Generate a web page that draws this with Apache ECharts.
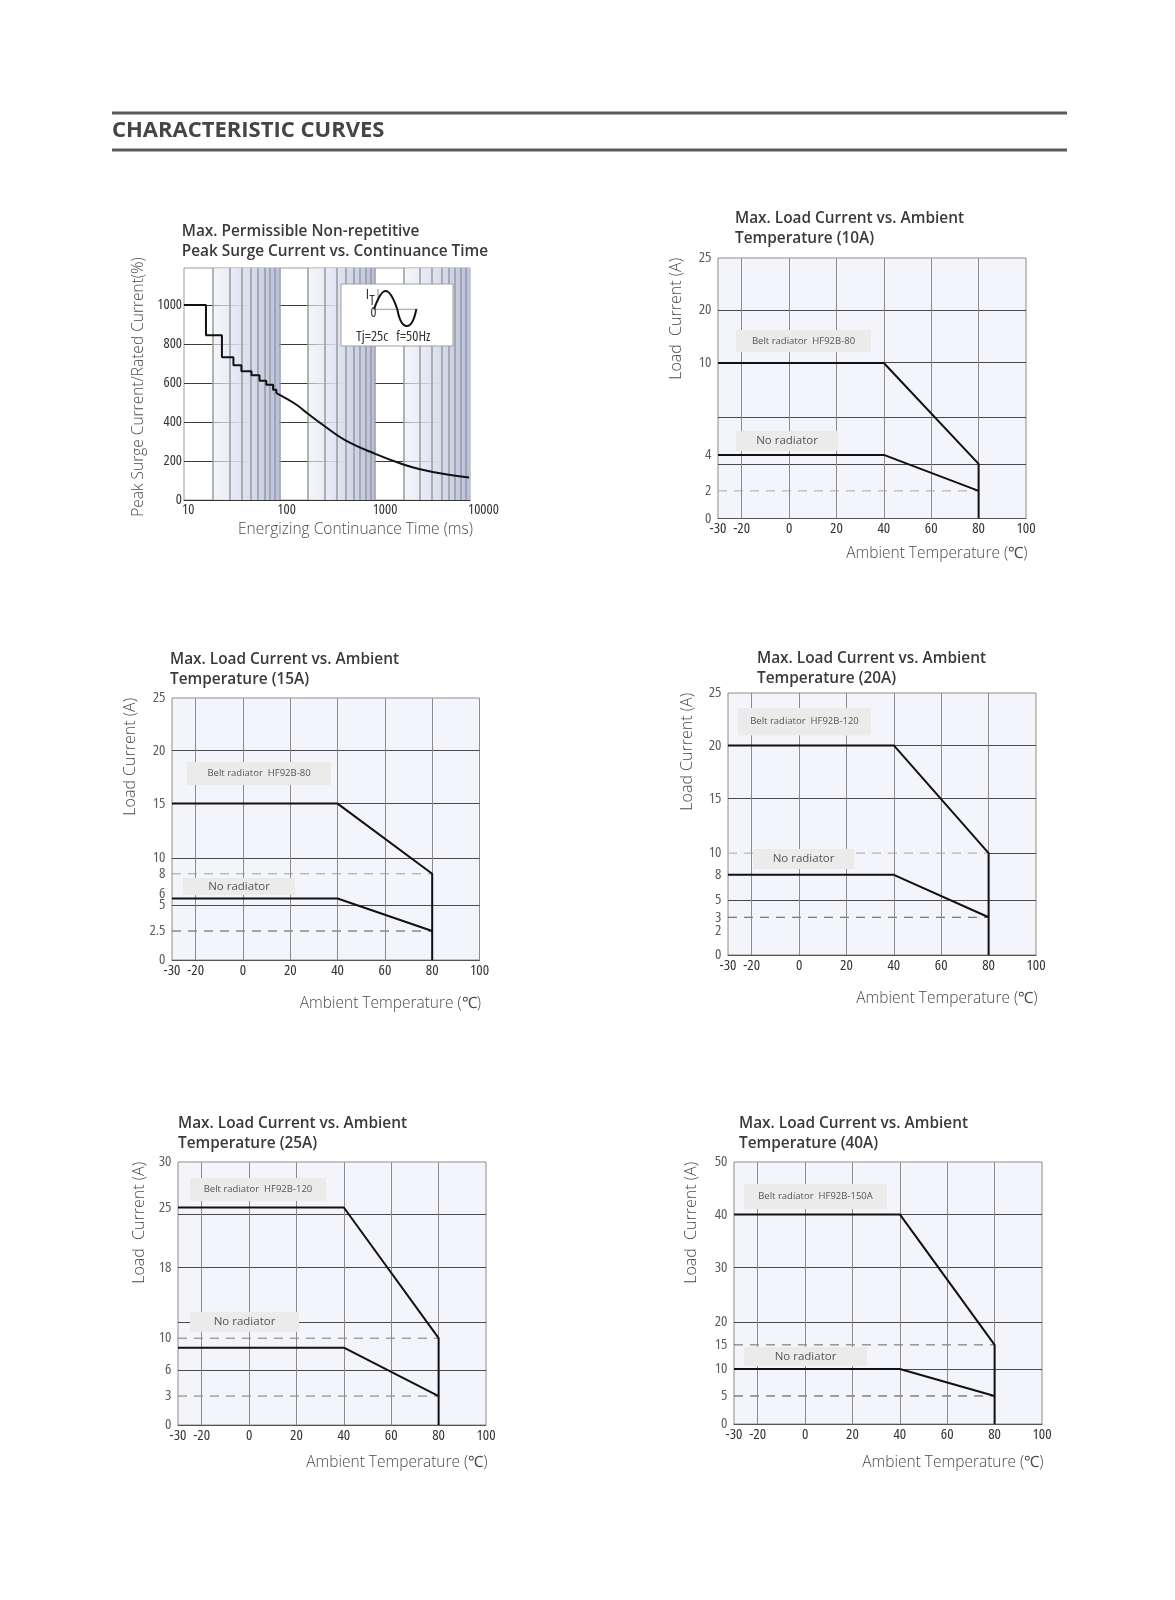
<!DOCTYPE html>
<html><head><meta charset="utf-8">
<script src="https://cdn.jsdelivr.net/npm/echarts@6/dist/echarts.min.js"></script>
<style>html,body{margin:0;padding:0;background:#fff}#c{width:1175px;height:1600px}</style>
</head><body><div id="c"></div>
<script>
// ================= DATA =================
const surgeStepTime  = [10, 17, 25, 33, 40, 51, 62, 73, 86, 93];
const surgeStepPct   = [1000, 845, 732, 691, 660, 640, 612, 591, 566, 548];
const surgeCurveTime = [93, 150, 200, 300, 500, 1000, 2000, 3000, 5000, 9800];
const surgeCurvePct  = [548, 490, 442, 378, 305, 238, 182, 158, 136, 115];
const surgeXTicks    = [10, 100, 1000, 10000];
const surgeYTicks    = [0, 200, 400, 600, 800, 1000];
const surgeBands     = [[20, 100], [200, 1000], [2000, 10000]];

const tempXTicks = [-30, -20, 0, 20, 40, 60, 80, 100];
const beltTemp = [-30, 40, 80, 80];
const noneTemp = [-30, 40, 80];
const refTemp  = [-30, 80];

const yTicks10A = [0, 2, 4, 10, 20, 25];
const belt10A   = [10, 10, 3.5, 0];
const none10A   = [4, 4, 2];
const refs10A   = [2];

const yTicks15A = [0, 2.5, 5, 6, 8, 10, 15, 20, 25];
const belt15A   = [15, 15, 8, 0];
const none15A   = [6, 6, 2.5];
const refs15A   = [8, 2.5];

const yTicks20A = [0, 2, 3, 5, 8, 10, 15, 20, 25];
const belt20A   = [20, 20, 10, 0];
const none20A   = [8, 8, 3];
const refs20A   = [10, 3];

const yTicks25A = [0, 3, 6, 10, 18, 25, 30];
const belt25A   = [25, 25, 10, 0];
const none25A   = [8.8, 8.8, 3];
const refs25A   = [10, 3];

const yTicks40A = [0, 5, 10, 15, 20, 30, 40, 50];
const belt40A   = [40, 40, 15, 0];
const none40A   = [10, 10, 5];
const refs40A   = [15, 5];

const ratings   = ['10A', '15A', '20A', '25A', '40A'];
const beltNames = ['Belt radiator  HF92B-80', 'Belt radiator  HF92B-80', 'Belt radiator  HF92B-120', 'Belt radiator  HF92B-120', 'Belt radiator  HF92B-150A'];
const yNames    = ['Load  Current (A)', 'Load Current (A)', 'Load Current (A)', 'Load  Current (A)', 'Load  Current (A)'];

// ================= NON-LINEAR Y SCALES (axis definition, fraction of plot height) =================
const yScale10A = [0, 0.106, 0.244, 0.597, 0.8, 1];
const yScale15A = [0, 0.1106, 0.21, 0.235, 0.329, 0.389, 0.597, 0.8, 1];
const yScale20A = [0, 0.092, 0.144, 0.21, 0.306, 0.389, 0.597, 0.8, 1];
const yScale25A = [0, 0.11, 0.21, 0.33, 0.597, 0.827, 1];
const yScale40A = [0, 0.107, 0.21, 0.302, 0.389, 0.597, 0.8, 1];
const gridFracs = [0.21, 0.389, 0.597, 0.8];

// ================= LAYOUT / STYLE =================
const COND = "'Open Sans', sans-serif";   // used with font-stretch: condensed
const SANS = "'Open Sans', Lato, sans-serif";
const surgeGrid = {left: 184, top: 268, width: 286, height: 232};
const panels = [
  {left: 718, top: 258, width: 308, height: 260.5, titleX: 735, titleY: 208.5, xNameDy: 35, yNameDx: 41.6, beltBox: [736, 330, 135, 22], noneBox: [736, 431, 102, 20]},
  {left: 172, top: 698, width: 307.5, height: 262, titleX: 170, titleY: 650, xNameDy: 44, yNameDx: 41.7, beltBox: [187, 762, 144, 23], noneBox: [183, 878, 112, 17]},
  {left: 728, top: 693, width: 308, height: 262, titleX: 757, titleY: 648.5, xNameDy: 44, yNameDx: 41, beltBox: [738, 708, 133, 27.5], noneBox: [753, 849, 101, 20]},
  {left: 178, top: 1162, width: 308, height: 263, titleX: 178, titleY: 1113.5, xNameDy: 37.5, yNameDx: 38.3, beltBox: [190, 1178, 136, 23], noneBox: [190, 1312, 109, 20]},
  {left: 734, top: 1162, width: 308, height: 262, titleX: 739, titleY: 1113.5, xNameDy: 39, yNameDx: 42.3, beltBox: [744, 1184, 143, 25], noneBox: [744, 1347, 123, 19]}
];
const refColors = [['#a8a8a8'], ['#a0a0a0', '#555'], ['#aaaaaa', '#555'], ['#7a7a7a', '#7a7a7a'], ['#666', '#444']];
const labelNudge = [{}, {6: -5}, {}, {}, {}];
const gridPartial = [null, null, 0.389, null, null]; // gridline drawn only right of 80 (dashed ref covers the rest)

const yTicksAll = [yTicks10A, yTicks15A, yTicks20A, yTicks25A, yTicks40A];
const yScaleAll = [yScale10A, yScale15A, yScale20A, yScale25A, yScale40A];
const beltAll = [belt10A, belt15A, belt20A, belt25A, belt40A];
const noneAll = [none10A, none15A, none20A, none25A, none40A];
const refsAll = [refs10A, refs15A, refs20A, refs25A, refs40A];

function makeScale(vals, pos) {
  return function (v) {
    for (let k = 0; k < vals.length - 1; k++) {
      if (v <= vals[k + 1]) {
        const t = (v - vals[k]) / (vals[k + 1] - vals[k]);
        return pos[k] + t * (pos[k + 1] - pos[k]);
      }
    }
    return pos[pos.length - 1];
  };
}
function txt(text, font, fill, align, vAlign) {
  return {text: text, font: font, fill: fill, textAlign: align, textVerticalAlign: vAlign, align: align, verticalAlign: vAlign};
}

const grids = [], xAxes = [], yAxes = [], series = [], titles = [], graphics = [];

// ---------- Header ----------
graphics.push({type: 'rect', shape: {x: 112, y: 111.5, width: 955, height: 3}, style: {fill: '#5a5a5a'}, z: 100});
graphics.push({type: 'rect', shape: {x: 112, y: 148.5, width: 955, height: 3}, style: {fill: '#5a5a5a'}, z: 100});
graphics.push({type: 'text', x: 112, y: 131, z: 100, style: txt('CHARACTERISTIC CURVES', "bold 22px 'Open Sans', sans-serif", '#454545', 'left', 'middle')});

// ---------- Surge chart ----------
grids.push(Object.assign({show: true, backgroundColor: '#ffffff', borderColor: '#9a9a9a', borderWidth: 1}, surgeGrid));
xAxes.push({gridIndex: 0, type: 'log', logBase: 10, min: surgeXTicks[0], max: surgeXTicks[surgeXTicks.length - 1],
  axisLine: {show: true, lineStyle: {color: '#333', width: 1}}, axisTick: {show: false}, splitLine: {show: false},
  axisLabel: {formatter: v => surgeXTicks.indexOf(Math.round(v)) >= 0 ? String(Math.round(v)) : '', align: 'left', margin: 2,
    fontStyle: 'condensed', fontFamily: COND, fontSize: 14.5, color: '#333', padding: [0, 0, 0, -2]}});
yAxes.push({gridIndex: 0, type: 'value', min: 0, max: 1190, interval: 200,
  axisLine: {show: false}, axisTick: {show: false},
  splitLine: {show: true, showMinLine: false, showMaxLine: false, lineStyle: {color: '#3a3a3a', width: 1}},
  axisLabel: {showMaxLabel: false, margin: 2, fontStyle: 'condensed', fontFamily: COND, fontSize: 14.5, color: '#333',
    formatter: v => surgeYTicks.indexOf(v) >= 0 ? String(v) : ''}});
const minorTimes = [];
[10, 100, 1000].forEach(d => { for (let m = 1; m <= 9; m++) { if (d * m > 10) minorTimes.push(d * m); } });
const bandGrad = {type: 'linear', x: 0, y: 0, x2: 1, y2: 0, colorStops: [
  {offset: 0, color: 'rgba(236,239,248,0.6)'}, {offset: 0.55, color: '#d9deef'}, {offset: 1, color: '#b7c0de'}]};
series.push({type: 'line', xAxisIndex: 0, yAxisIndex: 0, data: [], z: 1, silent: true,
  markArea: {silent: true, data: surgeBands.map(b => [{xAxis: b[0], itemStyle: {color: bandGrad}}, {xAxis: b[1]}])},
  markLine: {silent: true, symbol: ['none', 'none'], label: {show: false},
    data: minorTimes.map(t => ({xAxis: t, lineStyle: {color: '#9a9a9a', width: 1.5, type: 'solid'}}))}});
series.push({type: 'line', xAxisIndex: 0, yAxisIndex: 0, step: 'end', symbol: 'none', z: 5,
  data: surgeStepTime.map((t, k) => [t, surgeStepPct[k]]), lineStyle: {color: '#111', width: 2}});
series.push({type: 'line', xAxisIndex: 0, yAxisIndex: 0, smooth: 0.4, symbol: 'none', z: 5,
  data: surgeCurveTime.map((t, k) => [t, surgeCurvePct[k]]), lineStyle: {color: '#111', width: 2}});
titles.push({text: 'Max. Permissible Non-repetitive\nPeak Surge Current vs. Continuance Time', left: 181.7, top: 221.5, padding: 0,
  textStyle: {fontFamily: SANS, fontWeight: 600, fontSize: 15.4, color: '#3a3a3a', lineHeight: 20}});
graphics.push({type: 'text', x: 138.3, y: surgeGrid.top + surgeGrid.height / 2 + 3, rotation: Math.PI / 2, z: 100,
  style: txt('Peak Surge Current/Rated Current(%)', "300 15.5px 'Open Sans', sans-serif", '#4a4a4a', 'center', 'middle')});
graphics.push({type: 'text', x: 473, y: 530, z: 100,
  style: txt('Energizing Continuance Time (ms)', "300 15.5px 'Open Sans', sans-serif", '#4a4a4a', 'right', 'middle')});
// inset illustration
graphics.push({type: 'group', x: 341, y: 284, z: 100, children: [
  {type: 'rect', shape: {x: 0, y: 0, width: 112, height: 62}, style: {fill: '#fff', stroke: '#a0a0a0', lineWidth: 1}, z: 100},
  {type: 'line', shape: {x1: 33, y1: 25.3, x2: 77, y2: 25.3}, style: {stroke: '#999', lineWidth: 1}, z: 101},
  {type: 'line', shape: {x1: 37, y1: 5, x2: 37, y2: 18}, style: {stroke: '#888', lineWidth: 1}, z: 101},
  {type: 'bezierCurve', shape: {x1: 33, y1: 25.3, cpx1: 41.4, cpy1: 0.9, cpx2: 48, cpy2: 0.9, x2: 56.3, y2: 25.3}, style: {stroke: '#111', fill: null, lineWidth: 2}, z: 102},
  {type: 'bezierCurve', shape: {x1: 56.3, y1: 25.3, cpx1: 60.5, cpy1: 47.6, cpx2: 71, cpy2: 47.6, x2: 75.3, y2: 25.3}, style: {stroke: '#111', fill: null, lineWidth: 2}, z: 102},
  {type: 'text', x: 26.5, y: 10.7, z: 102, style: txt('I', "condensed 15px 'Open Sans'", '#333', 'center', 'middle')},
  {type: 'text', x: 31.2, y: 17.3, z: 102, style: txt('T', "condensed 14px 'Open Sans'", '#333', 'center', 'middle')},
  {type: 'text', x: 32.5, y: 29.3, z: 102, style: txt('0', "condensed 14px 'Open Sans'", '#333', 'center', 'middle')},
  {type: 'text', x: 15.3, y: 52.7, z: 102, style: txt('Tj=25c   f=50Hz', "condensed 14.5px 'Open Sans'", '#333', 'left', 'middle')}
]});

// ---------- Derating charts ----------
const xMin = tempXTicks[0], xMax = tempXTicks[tempXTicks.length - 1];
const vGrid = tempXTicks.slice(1, -1);
panels.forEach((p, i) => {
  const gi = i + 1;
  const f = makeScale(yTicksAll[i], yScaleAll[i]);
  grids.push({left: p.left, top: p.top, width: p.width, height: p.height, show: true, backgroundColor: '#f4f5fa', borderColor: '#8c8c8c', borderWidth: 1});
  xAxes.push({gridIndex: gi, type: 'value', min: xMin, max: xMax, interval: 10,
    axisLine: {show: true, lineStyle: {color: '#555', width: 1}}, axisTick: {show: false}, splitLine: {show: false},
    axisLabel: {formatter: v => tempXTicks.indexOf(v) >= 0 ? String(v) : '', margin: 3, fontStyle: 'condensed', fontFamily: COND, fontSize: 15, color: '#333', hideOverlap: false}});
  yAxes.push({gridIndex: gi, type: 'value', min: 0, max: 1, axisLine: {show: false}, axisTick: {show: false}, splitLine: {show: false}, axisLabel: {show: false}});
  const hLines = [];
  gridFracs.forEach(g => {
    if (gridPartial[i] === g) {
      hLines.push([{coord: [vGrid[vGrid.length - 1], g], lineStyle: {color: '#4a4a4a', width: 1, type: 'solid'}}, {coord: [xMax, g]}]);
    } else {
      hLines.push({yAxis: g, lineStyle: {color: '#4a4a4a', width: 1, type: 'solid'}});
    }
  });
  series.push({type: 'line', xAxisIndex: gi, yAxisIndex: gi, data: [], z: 1, silent: true,
    markLine: {silent: true, symbol: ['none', 'none'], label: {show: false},
      data: hLines.concat(vGrid.map(t => ({xAxis: t, lineStyle: {color: '#8c8c8c', width: 1, type: 'solid'}})))}});
  refsAll[i].forEach((r, k) => {
    series.push({type: 'line', xAxisIndex: gi, yAxisIndex: gi, symbol: 'none', z: 3, silent: true,
      data: refTemp.map(t => [t, f(r)]), lineStyle: {color: refColors[i][k], width: 1, type: [9, 7]}});
  });
  series.push({type: 'line', xAxisIndex: gi, yAxisIndex: gi, symbol: 'none', z: 5, silent: true,
    data: beltTemp.map((t, k) => [t, f(beltAll[i][k])]), lineStyle: {color: '#111', width: 2}});
  series.push({type: 'line', xAxisIndex: gi, yAxisIndex: gi, symbol: 'none', z: 5, silent: true,
    data: noneTemp.map((t, k) => [t, f(noneAll[i][k])]), lineStyle: {color: '#111', width: 2}});
  const ticks = yTicksAll[i];
  series.push({type: 'scatter', xAxisIndex: gi, yAxisIndex: gi, symbolSize: 1, z: 6, silent: true, clip: false,
    itemStyle: {color: 'rgba(0,0,0,0)'},
    data: ticks.map(v => {
      const item = {value: [xMin, f(v)]};
      if (labelNudge[i][v] !== undefined) item.label = {offset: [0, labelNudge[i][v]]};
      return item;
    }),
    label: {show: true, position: 'left', distance: 6, fontStyle: 'condensed', fontFamily: COND, fontSize: 15, color: '#333',
      formatter: prm => String(ticks[prm.dataIndex])}});
  titles.push({text: 'Max. Load Current vs. Ambient\nTemperature (' + ratings[i] + ')', left: p.titleX, top: p.titleY, padding: 0,
    textStyle: {fontFamily: SANS, fontWeight: 600, fontSize: 15.4, color: '#3a3a3a', lineHeight: 20}});
  graphics.push({type: 'text', x: p.left - p.yNameDx, y: p.top, rotation: Math.PI / 2, z: 100,
    style: txt(yNames[i], "300 16px 'Open Sans', sans-serif", '#4a4a4a', 'right', 'middle')});
  graphics.push({type: 'text', x: p.left + p.width + 1.5, y: p.top + p.height + p.xNameDy, z: 100,
    style: txt('Ambient Temperature (℃)', "300 15.5px 'Open Sans', sans-serif", '#4a4a4a', 'right', 'middle')});
  const bb = p.beltBox, nb = p.noneBox;
  graphics.push({type: 'rect', shape: {x: bb[0], y: bb[1], width: bb[2], height: bb[3]}, style: {fill: '#ebebeb'}, z: 100});
  graphics.push({type: 'text', x: bb[0] + bb[2] / 2, y: bb[1] + bb[3] / 2, z: 101,
    style: txt(beltNames[i], "9.5px 'Open Sans', sans-serif", '#555', 'center', 'middle')});
  graphics.push({type: 'rect', shape: {x: nb[0], y: nb[1], width: nb[2], height: nb[3]}, style: {fill: '#ebebeb'}, z: 100});
  graphics.push({type: 'text', x: nb[0] + nb[2] / 2, y: nb[1] + nb[3] / 2, z: 101,
    style: txt('No radiator', "11.5px 'Open Sans', sans-serif", '#555', 'center', 'middle')});
});

const chart = echarts.init(document.getElementById('c'), null, {renderer: 'canvas', width: 1175, height: 1600});
chart.setOption({
  backgroundColor: '#ffffff',
  animation: false,
  textStyle: {fontFamily: SANS},
  title: titles,
  grid: grids,
  xAxis: xAxes,
  yAxis: yAxes,
  series: series,
  graphic: {elements: graphics}
});
</script>
</body></html>
